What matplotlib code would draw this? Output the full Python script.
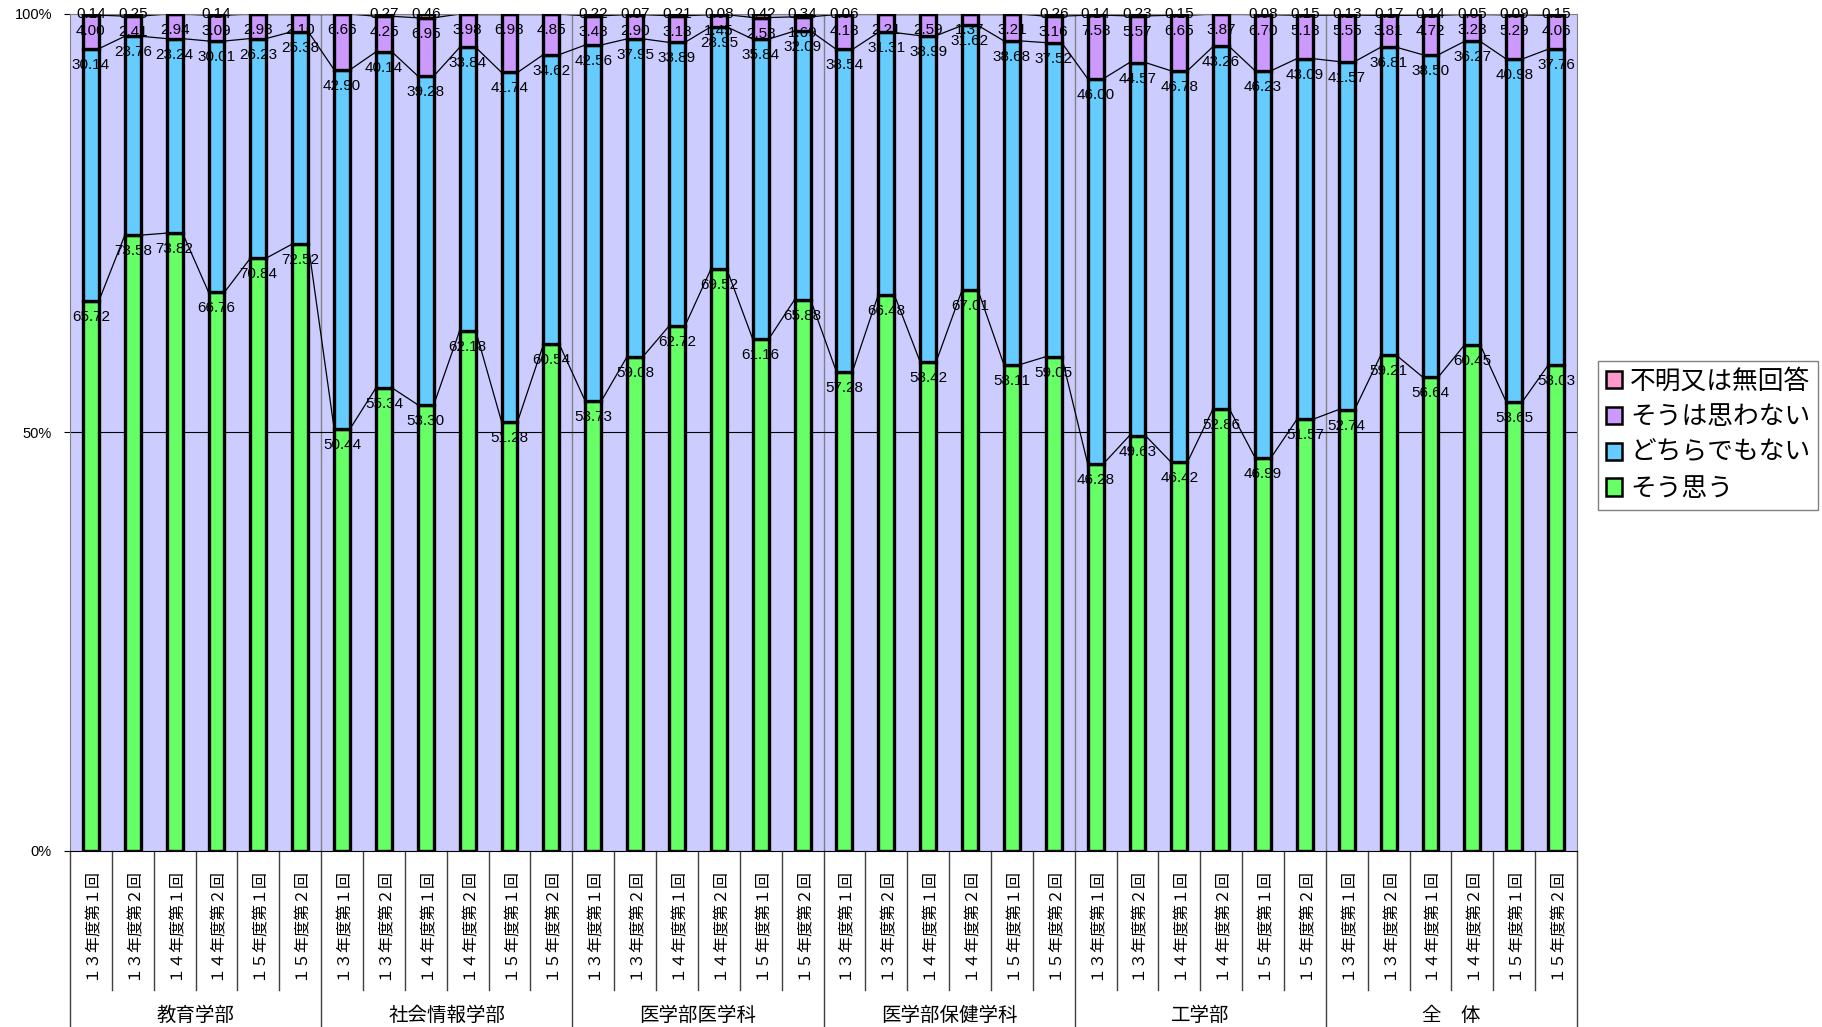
import numpy as np
import matplotlib
matplotlib.use("Agg")
import matplotlib.pyplot as plt
from matplotlib.patches import Patch
import matplotlib.transforms as mtransforms

plt.rcParams['font.family'] = ['Noto Sans CJK JP', 'DejaVu Sans']

# groups and periods
groups = ['教育学部', '社会情報学部', '医学部医学科', '医学部保健学科', '工学部', '全　体']
periods = ['１３年度第１回', '１３年度第２回', '１４年度第１回',
           '１４年度第２回', '１５年度第１回', '１５年度第２回']

# series values (%), 6 periods per group
so_omou = [65.72, 73.58, 73.82, 66.76, 70.84, 72.52,
           50.44, 55.34, 53.30, 62.18, 51.28, 60.54,
           53.73, 59.08, 62.72, 69.52, 61.16, 65.88,
           57.28, 66.48, 58.42, 67.01, 58.11, 59.05,
           46.28, 49.63, 46.42, 52.86, 46.99, 51.57,
           52.74, 59.21, 56.64, 60.45, 53.65, 58.03]
dochira = [30.14, 23.76, 23.24, 30.01, 26.23, 25.38,
           42.90, 40.14, 39.28, 33.84, 41.74, 34.62,
           42.56, 37.95, 33.89, 28.95, 35.84, 32.09,
           38.54, 31.31, 38.99, 31.62, 38.68, 37.52,
           46.00, 44.57, 46.78, 43.26, 46.23, 43.09,
           41.57, 36.81, 38.50, 36.27, 40.98, 37.76]
omowanai = [4.00, 2.41, 2.94, 3.09, 2.93, 2.10,
            6.66, 4.25, 6.95, 3.98, 6.98, 4.85,
            3.48, 2.90, 3.18, 1.45, 2.58, 1.69,
            4.18, 2.21, 2.59, 1.37, 3.21, 3.16,
            7.58, 5.57, 6.65, 3.87, 6.70, 5.18,
            5.55, 3.81, 4.72, 3.23, 5.29, 4.06]
fumei = [0.14, 0.25, 0, 0.14, 0, 0,
         0, 0.27, 0.46, 0, 0, 0,
         0.22, 0.07, 0.21, 0.08, 0.42, 0.34,
         0.06, 0, 0, 0, 0, 0.26,
         0.14, 0.23, 0.15, 0, 0.08, 0.15,
         0.13, 0.17, 0.14, 0.05, 0.09, 0.15]

series_names = ['そう思う', 'どちらでもない', 'そうは思わない', '不明又は無回答']
colors = ['#66FF66', '#66CCFF', '#CC99FF', '#FF99CC']

raw = np.array([so_omou, dochira, omowanai, fumei])
pct = raw / raw.sum(axis=0) * 100  # 100% stacked
n = pct.shape[1]
x = np.arange(n)
width = 0.38

fig = plt.figure(figsize=(18.22, 10.27), dpi=100)
ax = fig.add_axes([70 / 1822, 1 - 851 / 1027, 1507 / 1822, 837 / 1027])
ax.set_facecolor('#CCCCFF')

# group boundary lines inside plot
for g in range(1, len(groups)):
    ax.axvline(g * 6 - 0.5, color='#808080', lw=1, zorder=1)
ax.axhline(50, color='black', lw=0.8, zorder=1)

bottom = np.zeros(n)
tops = []
for k in range(4):
    ax.bar(x, pct[k], width, bottom=bottom, color=colors[k],
           edgecolor='black', linewidth=2.4, zorder=3)
    bottom = bottom + pct[k]
    tops.append(bottom.copy())

# series lines
for k in range(4):
    for i in range(n - 1):
        ax.plot([i + width / 2, i + 1 - width / 2], [tops[k][i], tops[k][i + 1]],
                color='black', lw=0.9, zorder=2)

# data labels
for k in range(4):
    for i in range(n):
        v = raw[k][i]
        if v <= 0:
            continue
        if k == 3:
            ax.annotate(f'{v:.2f}', (i, 100), ha='center', va='center',
                        fontsize=11, family=['Liberation Sans'], zorder=5,
                        annotation_clip=False)
        else:
            ax.annotate(f'{v:.2f}', (i, tops[k][i]), xytext=(0, -16),
                        textcoords='offset pixels', ha='center', va='center',
                        fontsize=11, family=['Liberation Sans'], zorder=5)

ax.set_xlim(-0.5, n - 0.5)
ax.set_ylim(0, 100)
ax.set_yticks([0, 50, 100])
ax.set_yticklabels(['0%', '50%', '100%'], family=['Liberation Sans'], fontsize=10.5)
ax.tick_params(axis='y', length=4, pad=9)

ax.set_xticks(x)
ax.set_xticklabels(periods * len(groups), rotation=90, va='top', fontsize=11.5)
ax.tick_params(axis='x', length=0, pad=12)

for s in ['top', 'right', 'left']:
    ax.spines[s].set_color('#808080')
ax.spines['bottom'].set_color('black')

# category separators below axis
trans = mtransforms.blended_transform_factory(ax.transData, ax.transAxes)
for i in range(n + 1):
    xb = i - 0.5
    y_end = -0.209 if i % 6 == 0 else -0.166
    ax.plot([xb, xb], [0, y_end], color='#404040', lw=1, transform=trans,
            clip_on=False)

for g, name in enumerate(groups):
    ax.text(g * 6 + 2.5, -0.197, name, ha='center', va='center', fontsize=14,
            transform=trans)

handles = [Patch(facecolor=colors[k], edgecolor='black', linewidth=1.8)
           for k in [3, 2, 1, 0]]
labels = [series_names[k] for k in [3, 2, 1, 0]]
leg = fig.legend(handles, labels, loc='upper left',
                 bbox_to_anchor=(1598 / 1822, 1 - 361 / 1027), fontsize=18.5,
                 fancybox=False, framealpha=1, edgecolor='#808080',
                 handlelength=0.65, handleheight=0.65, handletextpad=0.3,
                 labelspacing=0.38, borderpad=0.3, borderaxespad=0)
leg.get_frame().set_linewidth(1)

fig.savefig('out.png', dpi=100)
